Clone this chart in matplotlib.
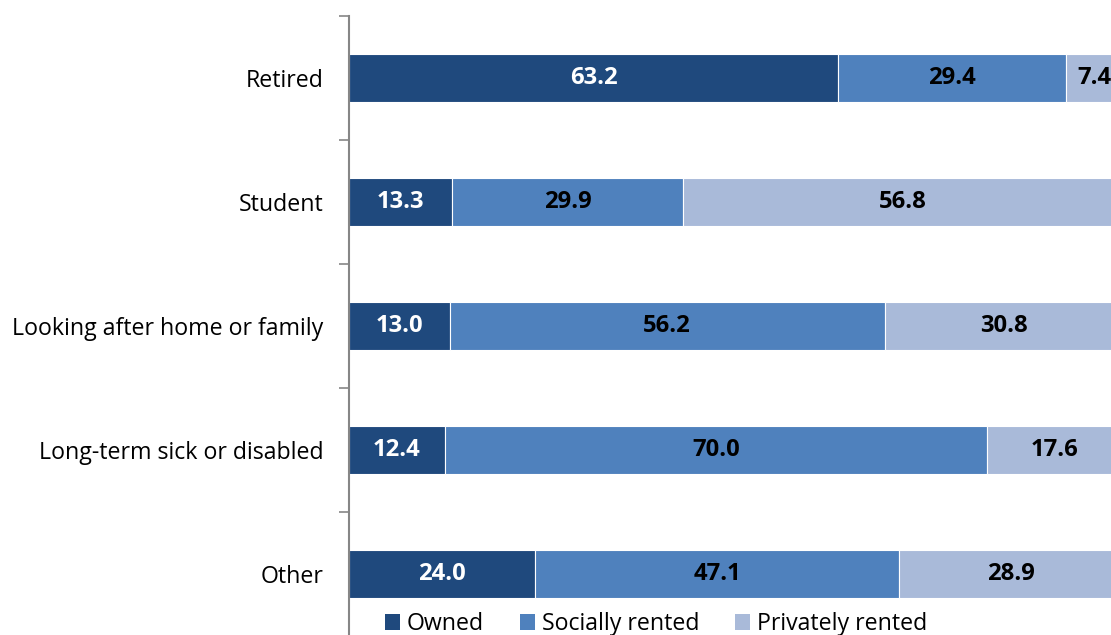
import matplotlib
matplotlib.use("Agg")
import matplotlib.pyplot as plt
from matplotlib.patches import Patch

categories = ["Retired", "Student", "Looking after home or family",
              "Long-term sick or disabled", "Other"]
owned = [63.2, 13.3, 13.0, 12.4, 24.0]
social = [29.4, 29.9, 56.2, 70.0, 47.1]
private = [7.4, 56.8, 30.8, 17.6, 28.9]
series_names = ["Owned", "Socially rented", "Privately rented"]
colors = ["#1F497D", "#4F81BD", "#A9BAD9"]
label_colors = ["white", "black", "black"]

plt.rcParams['font.family'] = ['Open Sans', 'DejaVu Sans']
FS = 16.7
VFS = 17.2

fig = plt.figure(figsize=(11.11, 6.35), dpi=100)
ax = fig.add_axes([349/1111, 1 - 636/635, 774/1111, 620/635])

ypos = list(range(len(categories)))
lefts = [0.0] * len(categories)
for vals, col, lc in zip([owned, social, private], colors, label_colors):
    ax.barh(ypos, vals, left=lefts, height=0.39, color=col,
            edgecolor="white", linewidth=0.8)
    for y, v, l in zip(ypos, vals, lefts):
        ax.text(l + v / 2, y, f"{v:.1f}", ha="center", va="center",
                color=lc, fontsize=VFS, fontweight="bold")
    lefts = [a + b for a, b in zip(lefts, vals)]

ax.set_xlim(0, 100)
ax.set_ylim(len(categories) - 0.5, -0.5)
ax.set_yticks([i - 0.5 for i in range(len(categories) + 1)])
ax.set_yticklabels([])
ax.set_yticks(ypos, minor=True)
ax.set_yticklabels(categories, minor=True, fontsize=FS)
ax.tick_params(axis="y", which="minor", length=0, pad=18.5)
ax.tick_params(axis="y", which="major", length=7, width=1.2, color="#868686")
ax.set_xticks([])
for s in ["top", "right", "bottom"]:
    ax.spines[s].set_visible(False)
ax.spines["left"].set_color("#868686")
ax.spines["left"].set_linewidth(1.5)

handles = [Patch(facecolor=c, edgecolor="none") for c in colors]
fig.legend(handles, series_names, loc="center", bbox_to_anchor=(656/1111, 1 - 624/635),
           ncol=3, frameon=False, fontsize=FS, handlelength=0.65, handleheight=0.65,
           handletextpad=0.3, columnspacing=1.55, borderpad=0)

fig.savefig("out.png", dpi=100)
